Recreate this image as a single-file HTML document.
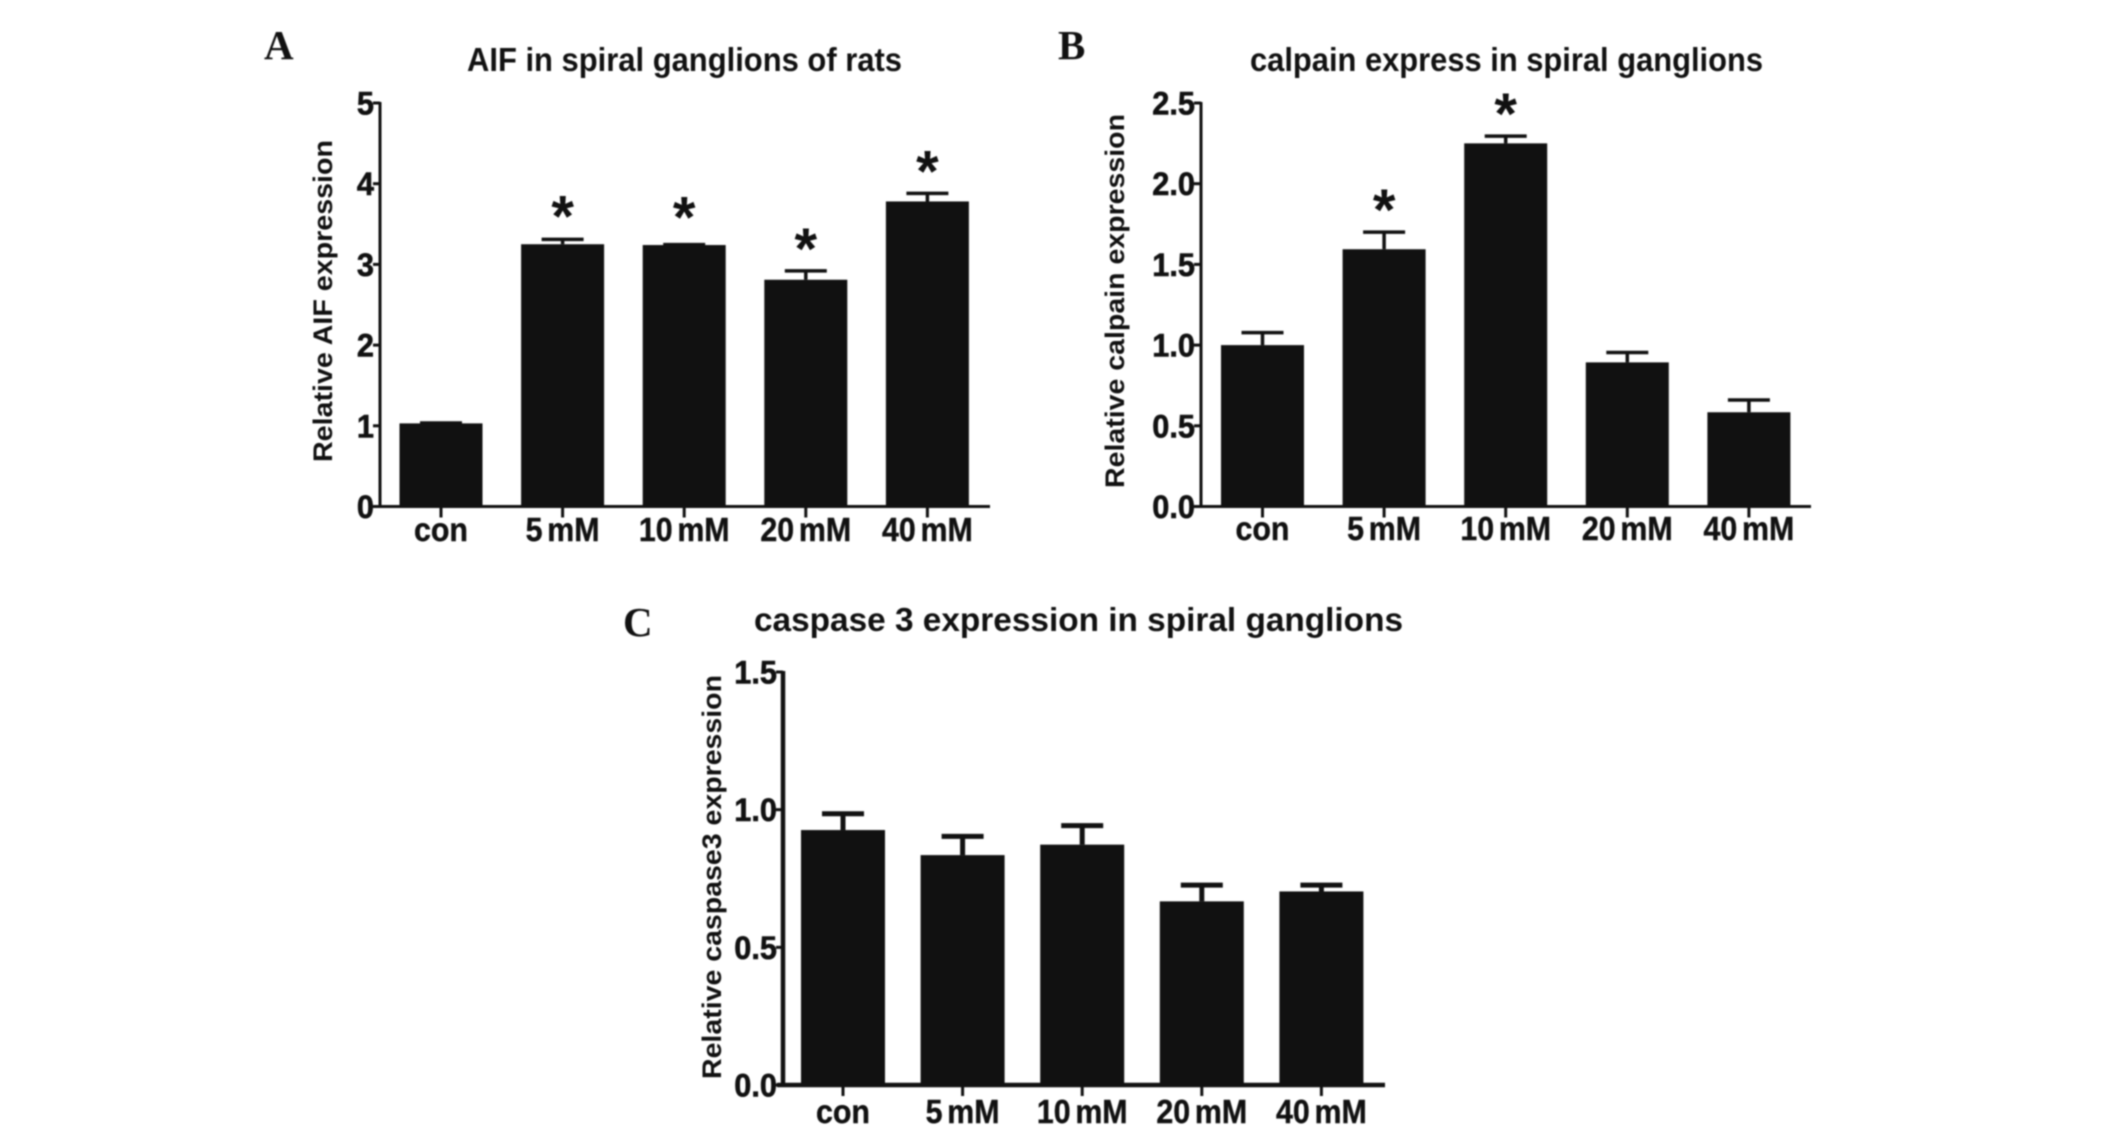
<!DOCTYPE html>
<html lang="en">
<head>
<meta charset="utf-8">
<title>AIF, calpain and caspase 3 expression in spiral ganglions</title>
<style>
html,body{margin:0;padding:0;background:#fff;width:2126px;height:1131px;overflow:hidden}
svg{display:block;filter:blur(0.7px)}
text{font-family:"Liberation Sans",sans-serif;font-weight:bold;fill:#111}
.letter{font-family:"Liberation Serif",serif}
.heavy{stroke:#111;stroke-width:0.6px}
.cat{word-spacing:-4px;stroke:#111;stroke-width:0.4px}
</style>
</head>
<body>
<svg id="figure" xmlns="http://www.w3.org/2000/svg" width="2126" height="1131" viewBox="0 0 2126 1131"></svg>
<script>
const categories = ['con', '5 mM', '10 mM', '20 mM', '40 mM'];

const aifTicks = ['0', '1', '2', '3', '4', '5'];
const aifValues = [1.03, 3.25, 3.24, 2.81, 3.78];
const aifErrors = [0.005, 0.06, 0.005, 0.11, 0.10];
const aifStars = [false, true, true, true, true];

const calpainTicks = ['0.0', '0.5', '1.0', '1.5', '2.0', '2.5'];
const calpainValues = [1.00, 1.594, 2.25, 0.893, 0.584];
const calpainErrors = [0.077, 0.106, 0.045, 0.061, 0.076];
const calpainStars = [false, true, true, false, false];

const caspaseTicks = ['0.0', '0.5', '1.0', '1.5'];
const caspaseValues = [0.926, 0.835, 0.873, 0.667, 0.703];
const caspaseErrors = [0.059, 0.068, 0.069, 0.059, 0.023];
const caspaseStars = [false, false, false, false, false];

const NS = 'http://www.w3.org/2000/svg';
const figure = document.getElementById('figure');

function make(parent, tag, attrs) {
  const el = document.createElementNS(NS, tag);
  for (const k in attrs) el.setAttribute(k, attrs[k]);
  parent.appendChild(el);
  return el;
}

function squeezedText(parent, str, x, y, size, sx, anchor, rot) {
  const t = make(parent, 'text', {
    transform: 'translate(' + x + ' ' + y + ')' + (rot ? ' rotate(' + rot + ')' : '') + ' scale(' + sx + ' 1)',
    'font-size': size,
    'text-anchor': anchor
  });
  t.textContent = str;
  return t;
}

function drawPanel(L, ticks, values, errors, stars) {
  const g = make(figure, 'g', {});
  
  

  const yMax = parseFloat(ticks[ticks.length - 1]);
  const yPos = v => L.y0 - (v / yMax) * (L.y0 - L.y1);
  const xPos = i => L.cx0 + i * L.step;

  const letter = squeezedText(g, L.letter, L.letterX, L.letterY, 41, 1, 'start');
  letter.setAttribute('class', 'letter');
  
  

  const title = make(g, 'text', {
    x: L.titleX, y: L.titleY, 'font-size': 33,
    textLength: L.titleW, lengthAdjust: 'spacingAndGlyphs'
  });
  title.textContent = L.title;
  
  

  const yTitle = make(g, 'text', {
    transform: 'translate(' + L.yTitleX + ' ' + L.yTitleY + ') rotate(-90)',
    'font-size': 27, textLength: L.yTitleW, lengthAdjust: 'spacingAndGlyphs'
  });
  yTitle.textContent = L.yTitle;
  
  

  values.forEach((v, i) => {
    const bar = make(g, 'rect', {
      x: xPos(i) - L.barW / 2, y: yPos(v), width: L.barW, height: L.y0 - yPos(v), fill: '#111'
    });
    
    

    const top = yPos(v + errors[i]);
    const err = make(g, 'path', {
      d: 'M' + xPos(i) + ' ' + yPos(v) + 'V' + top + 'M' + (xPos(i) - 21) + ' ' + top + 'H' + (xPos(i) + 21),
      stroke: '#111', 'stroke-width': L.capW, fill: 'none'
    });
    
    

    if (stars[i]) {
      const starBase = Math.min(top, yPos(v) - 5.5);
      const star = squeezedText(g, '*', xPos(i), starBase - 2, 58, 1, 'middle');
      
      
    }

    const tm = make(g, 'line', {
      x1: xPos(i), x2: xPos(i), y1: L.y0, y2: L.y0 + 11, stroke: '#111', 'stroke-width': 3
    });
    
    

    const lab = squeezedText(g, categories[i], xPos(i) + L.labDx, L.labY, 33, 0.92, 'middle');
    lab.setAttribute('class', 'cat');
    
    
  });

  ticks.forEach((t, i) => {
    const y = yPos(parseFloat(t));
    const tm = make(g, 'line', {
      x1: L.axisX - 7, x2: L.axisX, y1: y, y2: y, stroke: '#111', 'stroke-width': 3
    });
    
    

    const lab = squeezedText(g, t, L.axisX - 6, y + 11.5, 32, 0.96, 'end');
    lab.setAttribute('class', 'heavy');
    
    
  });

  const yAxis = make(g, 'line', {
    x1: L.axisX, x2: L.axisX, y1: L.y1 - 1, y2: L.y0 + 1, stroke: '#111', 'stroke-width': L.axisW
  });
  
  

  const xAxis = make(g, 'line', {
    x1: L.axisX - 6, x2: L.xEnd, y1: L.y0, y2: L.y0, stroke: '#111', 'stroke-width': L.axisW
  });
  
  
}

drawPanel({
  id: 'aif', letter: 'A', letterX: 264, letterY: 59,
  title: 'AIF in spiral ganglions of rats', titleX: 467, titleY: 71, titleW: 435,
  yTitle: 'Relative AIF expression', yTitleX: 332, yTitleY: 462, yTitleW: 322,
  axisX: 380, y0: 506.5, y1: 103, xEnd: 990, axisW: 3,
  cx0: 441, step: 121.6, barW: 83, capW: 3.5, labDx: 0, labY: 541
}, aifTicks, aifValues, aifErrors, aifStars);

drawPanel({
  id: 'calpain', letter: 'B', letterX: 1058, letterY: 59,
  title: 'calpain express in spiral ganglions', titleX: 1250, titleY: 71, titleW: 513,
  yTitle: 'Relative calpain expression', yTitleX: 1124, yTitleY: 488, yTitleW: 374,
  axisX: 1201, y0: 506.5, y1: 103, xEnd: 1811, axisW: 3,
  cx0: 1262.5, step: 121.6, barW: 83, capW: 3.5, labDx: 0, labY: 540
}, calpainTicks, calpainValues, calpainErrors, calpainStars);

drawPanel({
  id: 'caspase', letter: 'C', letterX: 623, letterY: 636,
  title: 'caspase 3 expression in spiral ganglions', titleX: 754, titleY: 631, titleW: 649,
  yTitle: 'Relative caspase3 expression', yTitleX: 721, yTitleY: 1079, yTitleW: 404,
  axisX: 783, y0: 1085, y1: 672, xEnd: 1385, axisW: 4.5,
  cx0: 843, step: 119.6, barW: 84, capW: 5, labDx: 0, labY: 1123
}, caspaseTicks, caspaseValues, caspaseErrors, caspaseStars);
</script>
</body>
</html>
